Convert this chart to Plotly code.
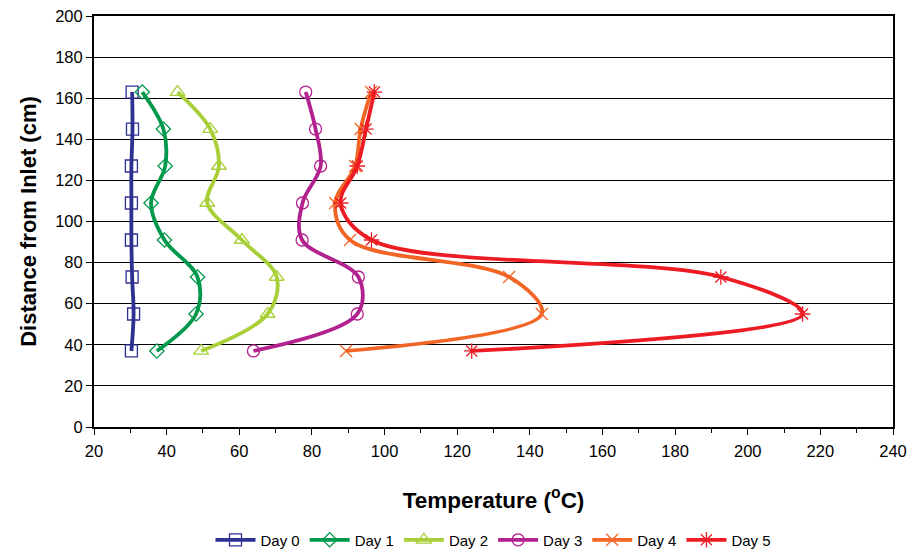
import plotly.graph_objects as go

distance = [37, 55, 73, 91, 109, 127, 145, 163]
day0 = [30.3, 30.9, 30.5, 30.3, 30.3, 30.3, 30.6, 30.5]
day1 = [37.3, 48.1, 48.5, 39.4, 35.7, 39.6, 39.1, 33.3]
day2 = [49.5, 67.8, 70.3, 60.7, 51.2, 54.4, 52.0, 43.0]
day3 = [63.9, 92.5, 92.8, 77.3, 77.4, 82.4, 81.0, 78.3]
day4 = [89.4, 143.3, 134.3, 90.5, 86.4, 91.9, 93.4, 96.3]
day5 = [124.0, 215.1, 192.6, 96.4, 87.9, 92.5, 94.9, 97.2]

names = ["Day 0", "Day 1", "Day 2", "Day 3", "Day 4", "Day 5"]
series = [day0, day1, day2, day3, day4, day5]
colors = ["#2E3192", "#00984A", "#A8CF38", "#B3218F", "#F26524", "#ED1C24"]
symbols = ["square-open", "diamond-open", "triangle-up-open", "circle-open", "x-thin-open", "asterisk-open"]
msizes = [12, 11, 13, 12, 12, 13]

fig = go.Figure()
for n, s, c, sym, ms in zip(names, series, colors, symbols, msizes):
    fig.add_trace(go.Scatter(
        x=s, y=distance, name=n, mode="lines+markers",
        line=dict(color=c, width=3.8, shape="spline", smoothing=1.0),
        marker=dict(symbol=sym, size=ms, color=c, line=dict(color=c, width=1.3)),
    ))

fig.update_layout(
    width=915, height=553,
    margin=dict(l=94, r=22, t=16, b=126, autoexpand=False),
    paper_bgcolor="white", plot_bgcolor="white",
    font=dict(family="Liberation Sans, Arial, sans-serif", color="black", size=16),
    showlegend=True,
    legend=dict(orientation="h", x=0.5, xanchor="center", y=-0.275, yanchor="middle",
                font=dict(size=15), itemwidth=40, tracegroupgap=0),
)
fig.update_xaxes(
    range=[20, 240], dtick=20, tick0=20, showgrid=False, zeroline=False,
    showline=True, linecolor="black", linewidth=2, mirror=True,
    ticks="outside", ticklen=6, tickcolor="black", automargin=False,
    ticklabelstandoff=2,
    minor=dict(ticks="outside", dtick=10, ticklen=4, tickcolor="black"),
    title=dict(text="<b>Temperature (<sup>o</sup>C)</b>", font=dict(size=22.5), standoff=33),
    tickfont=dict(size=16.5),
)
fig.update_yaxes(
    range=[0, 200], dtick=20, showgrid=True, gridcolor="black", gridwidth=1.3,
    zeroline=False, showline=True, linecolor="black", linewidth=2, mirror=True,
    ticks="outside", ticklen=6, tickcolor="black", automargin=False,
    title=dict(text="<b>Distance from Inlet (cm)</b>", font=dict(size=22), standoff=12),
    tickfont=dict(size=16.5),
)
# remove the browser's default 8px body margin so the figure sits at the page origin
fig.write_html("out.html", config={"displayModeBar": False},
               post_script="document.body.style.margin='0px';")
